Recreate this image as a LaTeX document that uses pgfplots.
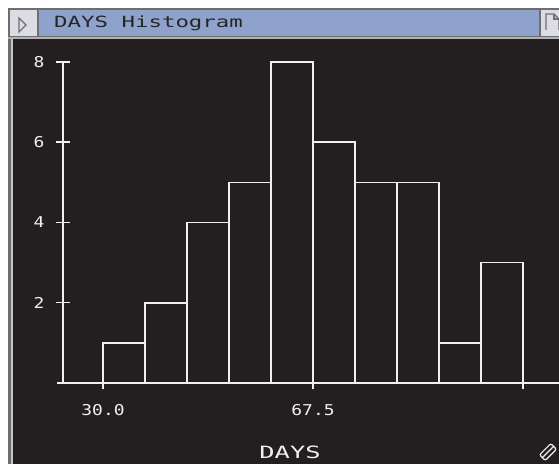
\documentclass[border=0pt]{standalone}
\usepackage{fontspec}
\usepackage{pgfplots}
\pgfplotsset{compat=1.18}
\newfontfamily\tickfont[FakeStretch=1.2]{DejaVu Sans Mono}
\newfontfamily\titlefont[FakeStretch=1.45]{DejaVu Sans Mono}
\newfontfamily\labelfont[FakeStretch=1.5]{DejaVu Sans Mono}
\definecolor{winbg}{HTML}{231F20}
\definecolor{titleblue}{HTML}{8FA2CC}
\definecolor{linewhite}{HTML}{F0F0F0}
\definecolor{framegray}{HTML}{6E6E6E}
\definecolor{boxgray}{HTML}{DCDCE4}

\begin{document}
\begin{tikzpicture}[x=1bp,y=1bp]
\useasboundingbox (0,0) rectangle (559,464);
\begin{scope}
\clip (0,0) rectangle (559,464);
% window frame
\fill[white] (0,0) rectangle (559,464);
\fill[winbg] (13,0) rectangle (559,426);
\fill[framegray] (8,0) rectangle (11,427);
\fill[gray!45] (11,0) rectangle (13,426);
\fill[gray!60] (8,425) rectangle (559,428);
% title bar
\filldraw[fill=titleblue, draw=framegray, line width=1.5bp] (8.75,427.5) rectangle (560,455);
\filldraw[fill=boxgray, draw=framegray, line width=1.5bp] (8.75,427.5) rectangle (38,455);
\draw[framegray, line width=1.2bp] (19,446) -- (19,432) -- (26,439) -- cycle;
\filldraw[fill=boxgray, draw=framegray, line width=1.5bp] (540,427.5) rectangle (562,455);
\draw[framegray, line width=1.2bp] (546,434) -- (546,450) -- (554,450) -- (559,445) -- (559,434);
\draw[framegray, line width=1.2bp] (554,450) -- (554,445) -- (559,445);
\node[anchor=west, inner sep=0pt, font=\titlefont\fontsize{15.5}{16}\selectfont, text=black!85] at (54,441) {DAYS Histogram};
% resize grip
\draw[linewhite, line width=1.2bp, rounded corners=2bp, rotate around={45:(548,12)}] (540,8) rectangle (556,16);
\draw[linewhite, line width=1.2bp, rotate around={45:(548,12)}] (540,12) -- (556,12);
\end{scope}

\begin{axis}[
    at={(63bp,81bp)}, anchor=south west,
    scale only axis, width=496bp, height=321bp,
    xmin=22.857, xmax=111.43, ymin=0, ymax=8,
    clip=false,
    axis line style={draw=none},
    major tick length=0pt,
    xtick={30,67.5}, xticklabels={30.0,67.5},
    ytick={2,4,6,8},
    /pgf/number format/assume math mode=true,
    tick label style={text=linewhite, font=\tickfont\fontsize{15}{15}\selectfont},
    xticklabel style={anchor=center, yshift=-27bp},
    yticklabel style={anchor=center, xshift=-24bp},
    xlabel={DAYS},
    xlabel style={at={(axis description cs:0.4577,-0.215)}, anchor=center, text=linewhite, font=\labelfont\fontsize{17}{17}\selectfont},
]
\addplot[ybar interval, draw=linewhite, fill=none, line width=1.6bp] coordinates {
    (30,1) (37.5,2) (45,4) (52.5,5) (60,8) (67.5,6) (75,5) (82.5,5) (90,1) (97.5,3) (105,3)
};
% axis lines and ticks
\draw[linewhite, line width=1.5bp] (axis cs:21.8,0) -- (axis cs:111.43,0);
\draw[linewhite, line width=1.5bp] (axis cs:22.857,0) -- (axis cs:22.857,8);
\draw[linewhite, line width=1.5bp] (axis cs:21.607,2) -- (axis cs:24.107,2);
\draw[linewhite, line width=1.5bp] (axis cs:21.607,4) -- (axis cs:24.107,4);
\draw[linewhite, line width=1.5bp] (axis cs:21.607,6) -- (axis cs:24.107,6);
\draw[linewhite, line width=1.5bp] (axis cs:21.607,8) -- (axis cs:24.107,8);
\draw[linewhite, line width=1.5bp] (axis cs:30,0) -- (axis cs:30,-0.15);
\draw[linewhite, line width=1.5bp] (axis cs:67.5,0) -- (axis cs:67.5,-0.15);
\draw[linewhite, line width=1.5bp] (axis cs:105,0) -- (axis cs:105,-0.15);
\end{axis}
\end{tikzpicture}
\end{document}
